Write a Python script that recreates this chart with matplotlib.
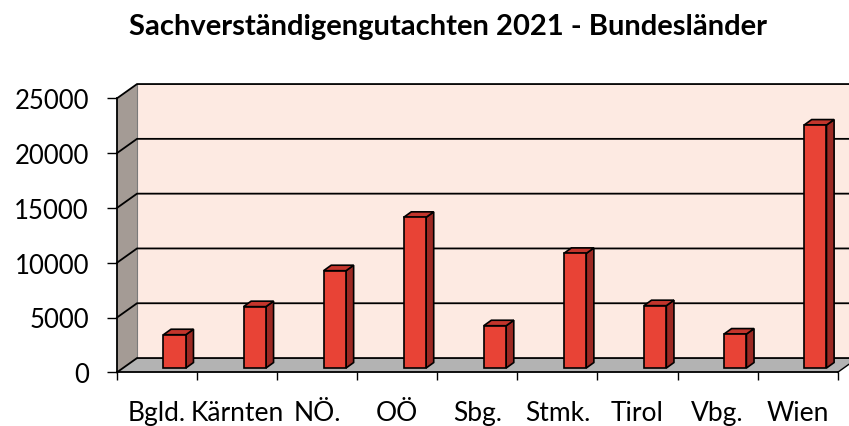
import matplotlib
matplotlib.use("Agg")
import matplotlib.pyplot as plt
from matplotlib.patches import Polygon
import numpy as np

categories = ["Bgld.", "Kärnten", "NÖ.", "OÖ", "Sbg.", "Stmk.", "Tirol", "Vbg.", "Wien"]
values = [3040, 5600, 8880, 13750, 3860, 10460, 5690, 3100, 22170]
yticks = [0, 5000, 10000, 15000, 20000, 25000]
title = "Sachverständigengutachten 2021 - Bundesländer"

plt.rcParams['font.family'] = ['Lato', 'DejaVu Sans']

W, H = 849, 427
fig = plt.figure(figsize=(W / 100, H / 100), dpi=100)
ax = fig.add_axes([117 / W, 53.7 / H, 720.7 / W, 274 / H])
ax.set_xlim(0, len(categories))
ax.set_ylim(0, 25000)
ax.patch.set_visible(False)

# depth offsets (in data units)
DX, DY = 0.25, 1300

wall_color = "#FDEAE2"
side_color = "#A49B95"
floor_color = "#B3B3B3"
n = len(categories)

# back wall
ax.add_patch(Polygon([(DX, DY), (n + DX, DY), (n + DX, 25000 + DY), (DX, 25000 + DY)],
                     closed=True, facecolor=wall_color, edgecolor="none", clip_on=False, zorder=0))
# left side wall
ax.add_patch(Polygon([(0, 0), (DX, DY), (DX, 25000 + DY), (0, 25000)],
                     closed=True, facecolor=side_color, edgecolor="none", clip_on=False, zorder=0.5))
# floor
ax.add_patch(Polygon([(0, 0), (n, 0), (n + DX, DY), (DX, DY)],
                     closed=True, facecolor=floor_color, edgecolor="none", clip_on=False, zorder=0.5))
# back-wall left edge
ax.plot([DX, DX], [DY, 25000 + DY], color="#7a7a7a", lw=0.8, clip_on=False, zorder=0.8)
# floor right edge
ax.plot([n, n + DX], [0, DY], color="black", lw=1.0, clip_on=False, zorder=0.8)

# gridlines
for v in yticks:
    ax.plot([0, DX, n + DX], [v, v + DY, v + DY], color="black", lw=1.3,
            clip_on=False, zorder=1, solid_joinstyle="miter")

# bars
face_color = "#E84336"
side_bar = "#9C2923"
top_bar = "#C3352C"
off = 0.58
bw = 0.28
bdx, bdy = 0.095, 500
base = 390
x = np.arange(n)
ax.bar(x + off, values, width=bw, bottom=base, align="edge", color=face_color,
       edgecolor="black", linewidth=1.2, zorder=3, clip_on=False)
for xi, v in zip(x, values):
    L, R = xi + off, xi + off + bw
    top = base + v
    ax.add_patch(Polygon([(R, base), (R + bdx, base + bdy), (R + bdx, top + bdy), (R, top)],
                         closed=True, facecolor=side_bar, edgecolor="black", lw=1.2,
                         zorder=2.9, clip_on=False, joinstyle="miter"))
    ax.add_patch(Polygon([(L, top), (R, top), (R + bdx, top + bdy), (L + bdx, top + bdy)],
                         closed=True, facecolor=top_bar, edgecolor="black", lw=1.2,
                         zorder=2.9, clip_on=False, joinstyle="miter"))

# spines / ticks
for s in ["top", "right"]:
    ax.spines[s].set_visible(False)
for s in ["left", "bottom"]:
    ax.spines[s].set_linewidth(1.3)
    ax.spines[s].set_zorder(4)
ax.set_yticks(yticks)
ax.set_yticklabels([str(v) for v in yticks])
ax.set_xticks(np.arange(n + 1))
ax.set_xticklabels([])
ax.set_xticks(x + 0.5, minor=True)
ax.set_xticklabels(categories, minor=True)
ax.tick_params(axis="y", direction="out", length=7.2, width=1.0, pad=13, labelsize=18.5)
ax.tick_params(axis="x", which="major", direction="out", length=6, width=1.0)
ax.tick_params(axis="x", which="minor", length=0, pad=20, labelsize=19)

fig.text(448 / W, 1 - 27.5 / H, title, ha="center", va="center", fontsize=21, fontweight="bold")

fig.savefig("out.png", dpi=100)
